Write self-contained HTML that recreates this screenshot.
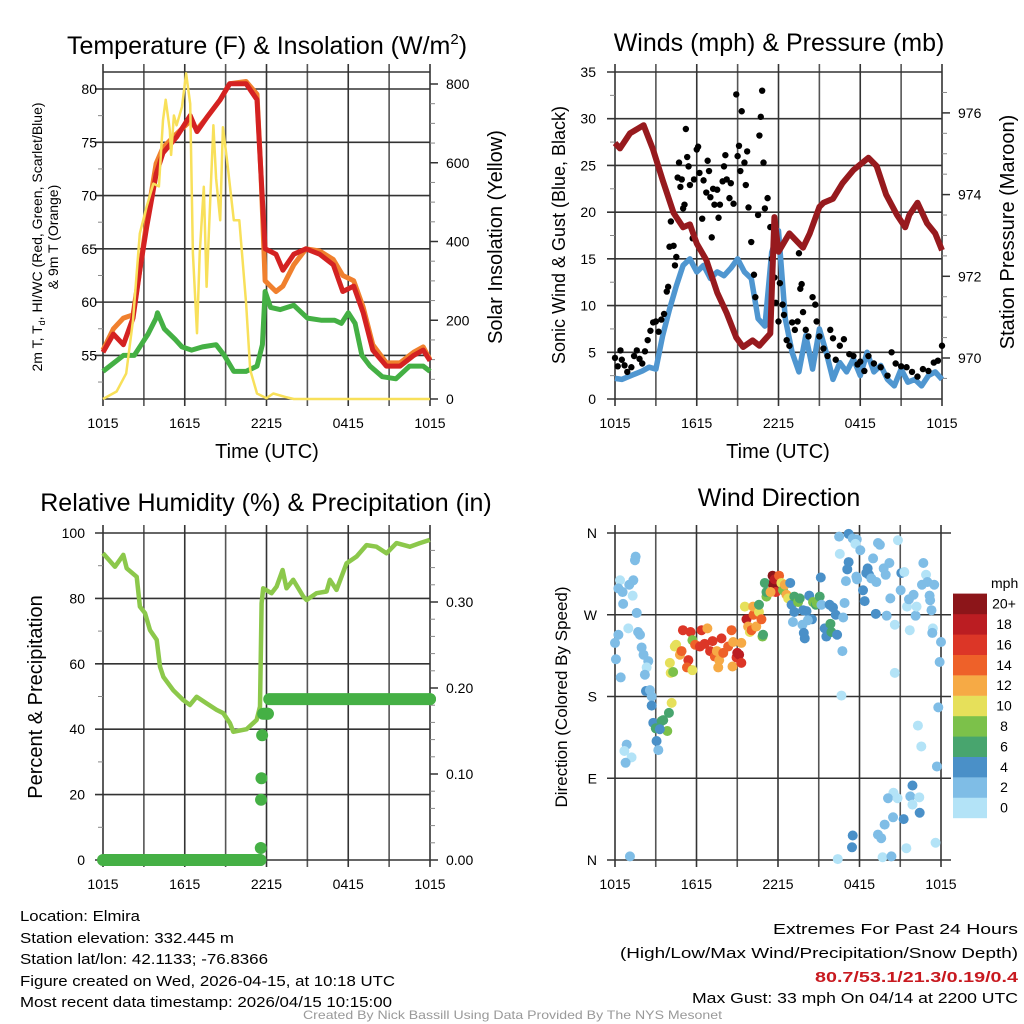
<!DOCTYPE html>
<html><head><meta charset="utf-8"><title>Elmira Mesonet Meteogram</title>
<style>
html,body{margin:0;padding:0;background:#fff;}
svg{display:block;font-family:"Liberation Sans",sans-serif;}
</style></head>
<body>
<svg id="chart" width="1024" height="1024" viewBox="0 0 1024 1024" xmlns="http://www.w3.org/2000/svg">
<rect width="1024" height="1024" fill="#fff"/>
<!-- Titles -->
<text x="267" y="54" font-size="25" text-anchor="middle">Temperature (F) &amp; Insolation (W/m<tspan font-size="15" dy="-10">2</tspan><tspan dy="10">)</tspan></text>
<text x="779" y="51" font-size="25" text-anchor="middle">Winds (mph) &amp; Pressure (mb)</text>
<text x="266" y="511" font-size="25" text-anchor="middle">Relative Humidity (%) &amp; Precipitation (in)</text>
<text x="779" y="506" font-size="25" text-anchor="middle">Wind Direction</text>
<!-- axis titles -->
<text x="267" y="458" font-size="20" text-anchor="middle">Time (UTC)</text>
<text x="778" y="458" font-size="20" text-anchor="middle">Time (UTC)</text>
<text transform="translate(42,237) rotate(-90)" font-size="14" text-anchor="middle">2m T, T<tspan font-size="9" dy="3">d</tspan><tspan dy="-3">, HI/WC (Red, Green, Scarlet/Blue)</tspan></text>
<text transform="translate(58,237) rotate(-90)" font-size="14" text-anchor="middle">&amp; 9m T (Orange)</text>
<text transform="translate(502,237) rotate(-90)" font-size="20" text-anchor="middle">Solar Insolation (Yellow)</text>
<text transform="translate(565,235) rotate(-90)" font-size="18" text-anchor="middle">Sonic Wind &amp; Gust (Blue, Black)</text>
<text transform="translate(1014,232) rotate(-90)" font-size="20" text-anchor="middle">Station Pressure (Maroon)</text>
<text transform="translate(42,697) rotate(-90)" font-size="20" text-anchor="middle">Percent &amp; Precipitation</text>
<text transform="translate(567,697) rotate(-90)" font-size="17" text-anchor="middle">Direction (Colored By Speed)</text>
<!-- footer text -->
<g font-size="15">
<text x="20" y="921" textLength="120" lengthAdjust="spacingAndGlyphs">Location: Elmira</text>
<text x="20" y="943" textLength="214" lengthAdjust="spacingAndGlyphs">Station elevation: 332.445 m</text>
<text x="20" y="964" textLength="248" lengthAdjust="spacingAndGlyphs">Station lat/lon: 42.1133; -76.8366</text>
<text x="20" y="986" textLength="375" lengthAdjust="spacingAndGlyphs">Figure created on Wed, 2026-04-15, at 10:18 UTC</text>
<text x="20" y="1007" textLength="372" lengthAdjust="spacingAndGlyphs">Most recent data timestamp: 2026/04/15 10:15:00</text>
</g>
<g font-size="15">
<text x="773" y="934" textLength="245" lengthAdjust="spacingAndGlyphs">Extremes For Past 24 Hours</text>
<text x="620" y="958" textLength="398" lengthAdjust="spacingAndGlyphs">(High/Low/Max Wind/Precipitation/Snow Depth)</text>
<text x="815" y="982" textLength="203" lengthAdjust="spacingAndGlyphs" font-weight="bold" fill="#c8191f">80.7/53.1/21.3/0.19/0.4</text>
<text x="692" y="1003" textLength="326" lengthAdjust="spacingAndGlyphs">Max Gust: 33 mph On 04/14 at 2200 UTC</text>
</g>
<text x="303" y="1019" font-size="12" fill="#999" textLength="419" lengthAdjust="spacingAndGlyphs">Created By Nick Bassill Using Data Provided By The NYS Mesonet</text>
</svg>
<script>
// ---------- DATA ----------
const timeTicks=["1015","1615","2215","0415","1015"];
const tHours=[0,0.76,1.5,2.2,2.7,3.2,3.9,4.4,5.4,6.4,6.9,7.6,8.6,9.3,10.5,11.3,11.6,11.9,12.7,13.2,14,14.9,15.9,16.9,17.6,18.4,19.1,19.8,20.8,21.8,22.8,23.5,24];
const tempRed=[55.3,57,56,58.5,63,67,72,74,75.5,77.5,76,77.3,79,80.5,80.5,79,72,65,64.5,63,64.5,65,64.5,63.5,61,61.5,59,55.5,54,54,55,55.5,54.5];
const temp9m=[55.5,57.5,58.5,58.8,63,67.5,73,74.5,75.8,77,76.2,77.3,79,80.5,80.7,79.5,72,62,61,61.5,63.5,65,64.8,64,62.5,62,59.5,56,54.3,54.3,55.3,55.8,54.6];
const dHours=[0,0.8,1.5,2.3,2.8,3.3,3.9,4.0,4.5,5.3,5.8,6.5,7.3,8.3,8.9,9.6,10.5,11.3,11.7,11.9,12.3,13,14,15,16,17,17.5,18,18.5,19,19.6,20.5,21.5,22.5,23.5,24];
const dewpoint=[53.5,54.3,55,55,56,57,58.5,59,57.5,56.5,55.8,55.5,55.8,56,55,53.5,53.5,54,56,61,59.5,59.3,59.7,58.5,58.3,58.3,58,59,58,55,54,53,52.8,54,54,53.5];
const sHours=[0,1,1.7,2.2,2.7,3.2,3.7,4.1,4.4,4.6,4.9,5.0,5.2,5.4,5.8,6.1,6.4,6.6,6.9,7.1,7.4,7.6,8.1,8.3,8.6,8.8,9.1,9.6,10.0,10.5,10.8,11.3,12,12.5,13.5,14,24];
const solar=[0,19,65,200,420,488,547,540,708,760,683,620,720,695,742,827,750,370,167,370,539,285,695,560,454,690,607,454,454,243,74,14,2,14,4,0,0];
const tempTicks=[55,60,65,70,75,80];
const solarTicks=[0,200,400,600,800];

const pHours=[0,0.37,1.1,2.1,2.8,3.5,4.3,5,5.5,6,6.7,7.5,8.2,8.9,9.4,10.1,10.6,11.4,11.7,12,12.8,13.8,14.3,15,15.3,16,16.7,17.5,18.6,19.2,19.9,20.7,21.3,21.6,22.2,22.9,23.5,24];
const pressure=[975.26,975.13,975.5,975.7,975.1,974.35,973.55,973.2,973.27,972.8,972.4,971.6,971.1,970.5,970.27,970.43,970.3,970.6,973.45,972.6,973.05,972.7,973.05,973.7,973.8,973.9,974.28,974.6,974.9,974.7,974.0,973.5,973.2,973.5,973.8,973.3,973.05,972.64];
const windHours=[0,0.5,1,1.5,2,2.5,3,3.5,4,4.5,5,5.5,6,6.5,7,7.5,8,8.5,9,9.5,10,10.5,11,11.5,12,12.5,13,13.5,14,14.5,15,15.5,16,16.5,17,17.5,18,18.5,19,19.5,20,20.5,21,21.5,22,22.5,23,23.5,24];
const windSpeed=[2.2,2.1,2.4,2.7,3,3.4,3.2,6.8,9.6,12.1,14.3,15,13.6,14.3,12.9,13.6,13.2,14,15,13.6,12.9,8.6,7.8,15.7,18,8.6,5,2.9,6.8,3.2,7.5,5,2.1,3.9,2.9,4.3,2.5,5,2.9,3.6,2.1,1.4,3.2,1.8,2.1,1.4,2.5,2.9,2.1];
const gusts=[[0,4.4],[0.2,3.5],[0.4,5.2],[0.5,4.2],[0.7,3.6],[0.9,2.9],[1.2,3.4],[1.4,4.6],[1.6,5.2],[1.8,4.3],[2,3.8],[2.2,5.1],[2.4,6.3],[2.6,7.3],[2.8,8.2],[3.0,8.3],[3.2,7.2],[3.4,8.5],[3.6,9.1],[3.8,11.5],[3.9,12.0],[4.0,16.3],[4.1,19.0],[4.3,16.4],[4.4,14.3],[4.5,15.2],[4.6,23.7],[4.7,25.3],[4.8,22.7],[4.9,23.5],[5.0,20.4],[5.1,20.8],[5.2,28.9],[5.3,25.9],[5.4,24.9],[5.5,22.9],[5.7,17.2],[5.8,23.5],[6.0,26.7],[6.1,27.0],[6.2,24.2],[6.4,19.3],[6.5,23.4],[6.7,22.1],[6.8,25.5],[6.9,24.4],[7.0,21.6],[7.1,17.3],[7.2,22.5],[7.3,20.8],[7.5,22.4],[7.6,19.4],[7.7,20.8],[7.9,23.3],[8.0,24.9],[8.1,26.1],[8.2,23.5],[8.4,21.5],[8.5,23.1],[8.7,20.9],[8.9,32.6],[9.0,26.0],[9.1,27.1],[9.2,24.4],[9.3,30.8],[9.5,25.3],[9.6,22.9],[9.7,26.5],[9.8,20.5],[10.0,16.8],[10.2,13.3],[10.3,10.9],[10.5,19.7],[10.6,28.2],[10.7,30.2],[10.8,33.0],[10.9,25.3],[11.0,20.4],[11.2,21.5],[11.4,18.4],[11.5,15.0],[11.7,13.0],[11.8,10.3],[12.0,8.3],[12.1,12.4],[12.3,10.1],[12.4,9.0],[12.6,6.3],[12.8,5.7],[13.0,8.2],[13.2,7.4],[13.4,8.3],[13.5,15.6],[13.6,11.8],[13.7,12.3],[13.8,9.3],[14.0,7.4],[14.2,6.7],[14.5,10.9],[14.7,10.1],[14.8,8.3],[15.0,6.7],[15.3,5.4],[15.6,4.6],[15.8,7.4],[16.0,6.5],[16.2,4.2],[16.5,5.7],[16.8,6.4],[17.2,4.8],[17.5,4.6],[17.8,3.7],[18.0,4.0],[18.3,3.0],[18.6,4.6],[19.0,3.8],[19.5,3.4],[20,2.5],[20.3,5.0],[20.6,3.8],[21,3.5],[21.4,3.4],[21.8,2.9],[22.2,2.4],[22.6,3.2],[23,3.0],[23.4,3.9],[23.7,4.1],[24,5.7]];
const windTicks=[0,5,10,15,20,25,30,35];
const pressTicks=[970,972,974,976];

const rhHours=[0,0.88,1.49,1.74,2.47,2.71,3.08,3.45,3.94,4.18,4.43,5.16,5.89,6.38,6.87,7.6,8.34,8.83,9.32,9.56,10.54,11.27,11.52,11.64,11.76,12.37,12.74,13.18,13.47,13.96,14.69,14.94,15.67,16.41,16.65,17.14,17.87,18.61,19.34,20.07,20.81,21.54,22.52,23.25,23.99];
const rh=[93.8,89.7,93.3,89.2,86.6,77.5,75.5,70.3,67.3,59.1,56,51.9,48.9,47.4,49.9,47.9,45.9,44.9,41.8,39.2,40,42.8,46.9,78.5,83.1,81.6,83.6,88.7,83.1,85.7,80.6,79.5,81.6,82.1,85.7,82.6,90.7,92.8,96.3,95.8,93.8,96.9,95.8,96.9,97.9];
const precipHours=[0,11.55,11.58,11.6,11.63,11.68,11.75,12.1,12.2,24];
const precip=[0,0,0.014,0.07,0.095,0.145,0.17,0.17,0.187,0.187];
const rhTicks=[0,20,40,60,80,100];
const precipTicks=[0,0.1,0.2,0.3];

// [hour, direction (deg), speed mph]
const dirObs=[[1.47,330,3],[1.52,334,3],[0.37,308,1],[0.25,299,3],[0.56,295,3],[1.35,308,3],[1.05,303,3],[1.3,291,1],[0.6,282,3],[1.6,272,3],[0.98,255,1],[0.25,248,3],[1.7,251,3],[1.84,248,3],[0,239,3],[1.96,234,3],[2.1,226,3],[0.07,221,3],[2.45,219,3],[2.33,212,1],[2.2,204,3],[0.42,201,3],[2.28,186,5],[2.57,187,3],[2.7,180,3],[2.7,170,5],[4.17,173,11],[3.97,162,7],[3.55,154,7],[2.82,151,5],[3.43,153,7],[3.0,145,7],[3.85,142,9],[3.3,144,5],[3.06,131,5],[3.19,121,3],[0.86,127,3],[0.69,120,1],[1.22,113,1],[0.78,107,3],[1.1,4,3],
[4.04,217,11],[4.1,206,11],[4.28,207,9],[4.4,235,11],[4.5,237,11],[4.78,226,13],[4.9,230,15],[5.0,253,17],[5.4,220,17],[5.3,212,15],[5.56,251,17],[5.7,209,11],[5.7,242,9],[5.9,237,15],[6.25,235,17],[6.37,253,17],[6.6,238,17],[6.8,255,13],[7.0,230,17],[7.18,241,17],[7.35,224,15],[7.5,230,13],[7.67,220,13],[7.6,212,13],[7.84,244,17],[7.97,228,15],[8.33,235,15],[8.58,253,15],[8.65,213,13],[8.7,240,13],[8.95,223,17],[9.14,226,19],[9.3,217,17],[9.3,239,13],[9.0,228,19],
[9.56,279,11],[9.68,265,19],[9.8,257,13],[9.93,251,11],[10.05,253,15],[10.2,270,15],[10.17,279,13],[10.4,257,13],[10.6,273,11],[10.78,265,15],[10.86,246,9],[10.9,248,7],[10.6,281,7],[11.15,290,9],[11.03,305,7],[11.15,295,7],[11.6,313,21],[11.7,306,21],[11.65,302,21],[11.84,295,17],[11.45,295,13],[11.76,309,19],[12.08,313,15],[12.25,305,11],[12.37,297,9],[12.5,303,13],[12.62,292,13],[12.75,288,11],[12.9,305,5],[13.0,281,5],[13.2,290,7],[13.48,284,9],[13.6,288,7],[13.85,275,5],[14.1,274,5],[14.3,291,5],[14.5,265,5],[14.58,284,9],[14.78,281,7],[14.85,283,9],[15.07,290,7],[15.15,311,5],[15.2,281,3],[15.44,255,5],[15.56,246,5],[15.8,281,5],[15.93,251,7],[15.86,260,7],[16.05,278,5],[16.25,270,5],[16.35,248,5],[16.8,267,3],[16.9,283,3],[16.74,230,3],[13.1,262,3],[13.8,259,3],[13.97,244,5],[13.9,250,5],[14.2,264,3],[13.2,273,5],
[16.5,356,3],[16.55,337,1],[17.2,359,5],[17.5,354,3],[17.8,353,3],[17.7,348,1],[18.06,341,3],[17.2,328,5],[17.1,320,5],[17.0,307,3],[17.77,312,3],[17.82,309,3],[18.26,297,5],[18.38,285,5],[18.5,316,5],[18.6,321,5],[18.7,314,5],[18.87,310,3],[19.0,332,3],[19.2,271,5],[19.24,306,3],[19.36,349,3],[19.5,347,3],[19.78,321,3],[19.93,314,3],[20.0,269,3],[20.2,327,3],[20.27,288,3],[20.6,259,1],[20.83,352,1],[21.03,297,3],[21.08,316,5],[21.3,317,1],[21.5,279,1],[21.64,287,3],[21.7,253,1],[21.98,292,3],[22.13,269,3],[22.2,279,1],[22.6,303,3],[22.7,327,3],[22.9,314,1],[23.0,306,3],[23.16,291,3],[23.2,286,3],[23.3,275,3],[23.4,255,1],[23.36,250,3],[23.5,303,3],[24,240,3],[23.9,218,3],[20.6,206,1],[16.67,181,1],[23.8,168,3],[22.3,148,1],[22.55,125,1],[23.7,103,3],
[21.9,82,5],[20.5,74,1],[20.1,68,3],[20.8,68,1],[21.74,70,3],[22.4,69,1],[21.9,61,1],[22.43,52,5],[21.25,45,5],[20.47,47,3],[19.85,39,3],[19.36,28,3],[19.6,24,3],[17.5,27,5],[17.45,14,5],[21.45,13,1],[23.6,19,1],[19.7,3,1],[20.35,4,3],[16.4,1,1]];
const dirTicks=["N","E","S","W","N"];
const speedLabels=["0","2","4","6","8","10","12","14","16","18","20+"];
const speedColors=["#b3e3f7","#7fbde6","#4a90c8","#48a56e","#7cc14a","#e6e05a","#f6aa45","#ee6129","#dc3627","#bb1d22","#8c1519"];

// ---------- RENDER ----------
const NS="http://www.w3.org/2000/svg";
const svg=document.getElementById("chart");
function mk(tag,attrs,parent){const e=document.createElementNS(NS,tag);for(const k in attrs)e.setAttribute(k,attrs[k]);(parent||svg).appendChild(e);return e;}
function lin(d0,d1,r0,r1){return v=>r0+(v-d0)*(r1-r0)/(d1-d0);}
function pathD(xs,ys,fx,fy){return xs.map((h,i)=>(i?"L":"M")+fx(h).toFixed(1)+","+fy(ys[i]).toFixed(1)).join("");}

function frame(x0,x1,y0,y1,name){
  const g=mk("g",{});
  
  
  for(let i=0;i<=8;i++){
    const x=x0+(x1-x0)*i/8;
    const l=mk("line",{x1:x,x2:x,y1:y0-8,y2:y1+7,stroke:i%2?"#555":"#333","stroke-width":1.6},g);
    
    
  }
  timeTicks.forEach((t,i)=>{
    const tx=mk("text",{x:x0+(x1-x0)*i/4,y:y1+29,"font-size":14,"text-anchor":"middle"},g);
    tx.textContent=t;
    
    
  });
  return g;
}
function hline(g,x0,x1,y,ext1,ext2){
  const l=mk("line",{x1:x0-ext1,x2:x1+ext2,y1:y,y2:y,stroke:"#333","stroke-width":1.6},g);
  
  
}
function tickLabel(g,x,y,t,anchor){
  const tx=mk("text",{x:x,y:y+5,"font-size":14,"text-anchor":anchor},g);
  tx.textContent=t;
  
  
}
function minor(g,x,y,dir){
  const l=mk("line",{x1:x,x2:x+dir*5,y1:y,y2:y,stroke:"#888","stroke-width":1},g);
  
  
}

// Panel 1
{
  const X=lin(0,24,103,430), Y=lin(80,55,89,355.4), YS=lin(0,800,399,84);
  const g=frame(103,430,72,399,"temperature");
  [72,399].forEach(y=>hline(g,103,430,y,0,0));
  tempTicks.forEach(t=>{hline(g,103,430,Y(t),8,0);tickLabel(g,97,Y(t),t,"end");});
  for(let t=52.5;t<80;t+=5)minor(g,103,Y(t),-1);
  solarTicks.forEach(t=>{const l=mk("line",{x1:430,x2:438,y1:YS(t),y2:YS(t),stroke:"#333","stroke-width":1.5},g);tickLabel(g,446,YS(t),t,"start");});
  for(let t=50;t<800;t+=50)if(t%200)minor(g,430,YS(t),1);
  const o=mk("path",{d:pathD(tHours,temp9m,X,Y),fill:"none",stroke:"#f0802e","stroke-width":5,"stroke-linejoin":"round"});
  
  
  const r=mk("path",{d:pathD(tHours,tempRed,X,Y),fill:"none",stroke:"#d42222","stroke-width":5,"stroke-linejoin":"round"});
  
  
  const gr=mk("path",{d:pathD(dHours,dewpoint,X,Y),fill:"none",stroke:"#44b044","stroke-width":5,"stroke-linejoin":"round"});
  
  
  const s=mk("path",{d:pathD(sHours,solar,X,YS),fill:"none",stroke:"#f8e05a","stroke-width":2.5,"stroke-linejoin":"round"});
  
  
}
// Panel 2
{
  const X=lin(0,24,615,942), Y=lin(0,35,399,72), YP=lin(970,976,358,112.9);
  const g=frame(615,942,72,399,"winds");
  windTicks.forEach(t=>{hline(g,615,942,Y(t),8,0);tickLabel(g,596,Y(t),t,"end");});
  for(let t=2.5;t<35;t+=5)minor(g,615,Y(t),-1);
  pressTicks.forEach(t=>{const l=mk("line",{x1:942,x2:950,y1:YP(t),y2:YP(t),stroke:"#333","stroke-width":1.5},g);tickLabel(g,958,YP(t),t,"start");});
  for(let t=969.5;t<977;t+=0.5)if(t%2)minor(g,942,YP(t),1);
  const w=mk("path",{d:pathD(windHours,windSpeed,X,Y),fill:"none",stroke:"#4f96d0","stroke-width":5.5,"stroke-linejoin":"round"});
  
  
  gusts.forEach(p=>{
    const c=mk("circle",{cx:X(p[0]),cy:Y(p[1]),r:3.2,fill:"#000"});
    
    
  });
  const pr=mk("path",{d:pathD(pHours,pressure,X,YP),fill:"none",stroke:"#971a1e","stroke-width":6,"stroke-linejoin":"round"});
  
  
}
// Panel 3
{
  const X=lin(0,24,103,430), Y=lin(0,100,860,533), YP=lin(0,0.1,860,774);
  const g=frame(103,430,533,860,"humidity");
  rhTicks.forEach(t=>{hline(g,103,430,Y(t),8,0);tickLabel(g,85,Y(t),t,"end");});
  for(let t=10;t<100;t+=20)minor(g,103,Y(t),-1);
  precipTicks.forEach(t=>{const l=mk("line",{x1:430,x2:438,y1:YP(t),y2:YP(t),stroke:"#333","stroke-width":1.5},g);tickLabel(g,446,YP(t),t.toFixed(2),"start");});
  for(let t=0.02;t<0.38;t+=0.02)if(Math.round(t*100)%10)minor(g,430,YP(t),1);
  const l=mk("path",{d:pathD(rhHours,rh,X,Y),fill:"none",stroke:"#8cc84b","stroke-width":4.5,"stroke-linejoin":"round"});
  
  
  precip.forEach((v,i)=>{
    if(i<precip.length-1 && precip[i+1]===v){
      const s=mk("line",{x1:X(precipHours[i]),x2:X(precipHours[i+1]),y1:YP(v),y2:YP(v),stroke:"#45b045","stroke-width":12,"stroke-linecap":"round"});
      
      
    } else {
      const c=mk("circle",{cx:X(precipHours[i]),cy:YP(v),r:6,fill:"#45b045"});
      
      
    }
  });
}
// Panel 4
{
  const X=lin(0,24,615,941), Y=lin(0,360,860,533);
  const g=frame(615,941,533,860,"direction");
  dirTicks.forEach((t,i)=>{const y=Y(i*90);hline(g,615,941,y,8,10);tickLabel(g,597,y,t,"end");});
  dirObs.forEach(o=>{
    const bin=Math.min(10,Math.floor(o[2]/2));
    const c=mk("circle",{cx:X(o[0]),cy:Y(o[1]),r:5,fill:speedColors[bin]});
    
    
  });
  const lg=mk("g",{});
  
  
  const ttl=mk("text",{x:991,y:588,"font-size":14},lg);
  ttl.textContent="mph";
  
  
  speedLabels.forEach((t,i)=>{
    const y=818-(i+1)*20.4;
    const r=mk("rect",{x:953,y:y,width:34,height:20.6,fill:speedColors[i]},lg);
    
    
    const tx=mk("text",{x:1004,y:y+15,"font-size":14,"text-anchor":"middle"},lg);
    tx.textContent=t;
    
    
  });
}
</script>
</body></html>
